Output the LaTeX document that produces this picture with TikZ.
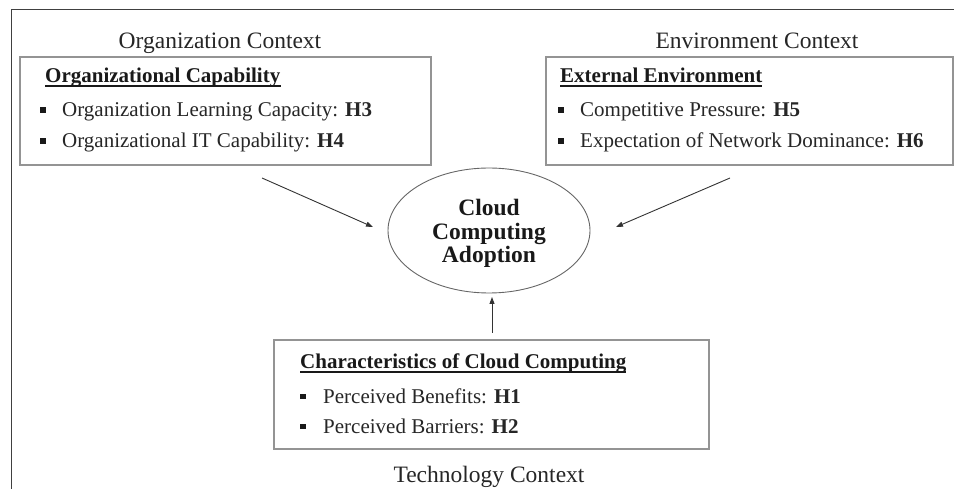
\documentclass[tikz,border=0pt]{standalone}
\usepackage{fontspec}
\setmainfont{Liberation Serif}
\usetikzlibrary{arrows.meta,shapes.geometric}
\tikzset{
  frame/.style={draw=black!75, line width=1pt},
  box/.style={draw=black!42, line width=1.6pt, inner sep=0pt, anchor=north west},
  ctx/.style={inner sep=0pt, anchor=base, font=\fontsize{23.5}{28}\selectfont, text=black!85},
  ttl/.style={inner sep=0pt, anchor=base west, font=\fontsize{21}{25}\selectfont\bfseries, text=black!90},
  item/.style={inner sep=0pt, anchor=base west, font=\fontsize{21}{25}\selectfont, text=black!85},
  bul/.style={fill=black!90, minimum size=5.5pt, inner sep=0pt},
  uline/.style={draw=black!90, line width=1.2pt},
  core/.style={draw=black!60, line width=0.9pt, ellipse, minimum width=202pt, minimum height=125pt, inner sep=0pt},
  coretxt/.style={inner sep=0pt, anchor=base, font=\fontsize{23.5}{25}\selectfont\bfseries, text=black!90},
  arr/.style={draw=black!80, line width=0.9pt, -{Triangle[length=7pt,width=5pt]}},
}
\begin{document}
\begin{tikzpicture}[x=1pt,y=-1pt]
\useasboundingbox (0,0) rectangle (954,489);
% outer frame
\coordinate (fl) at (11,489);
\coordinate (ftl) at (11,9.5);
\coordinate (fr) at (954,9.5);
\draw[frame] (fl) -- (ftl) -- (fr);

% organization context
\node[ctx] (orgctx) at (220,49) {Organization Context};
\node[box, minimum width=411pt, minimum height=108pt] (orgbox) at (19,56) {};
\node[ttl] (orgttl) at (45,83) {Organizational Capability};
\draw[uline] ([yshift=-3pt]orgttl.base west) -- ([yshift=-3pt]orgttl.base east);
\node[bul] (ob1) at (43,110) {};
\node[item] (oi1) at (62,117) {Organization Learning Capacity: \textbf{H3}};
\node[bul] (ob2) at (43,141) {};
\node[item] (oi2) at (62,148) {Organizational IT Capability: \textbf{H4}};

% environment context
\node[ctx] (envctx) at (757,49) {Environment Context};
\node[box, minimum width=407pt, minimum height=108pt] (envbox) at (545,56) {};
\node[ttl] (envttl) at (560,83) {External Environment};
\draw[uline] ([yshift=-3pt]envttl.base west) -- ([yshift=-3pt]envttl.base east);
\node[bul] (eb1) at (561,110) {};
\node[item] (ei1) at (580,117) {Competitive Pressure: \textbf{H5}};
\node[bul] (eb2) at (561,141) {};
\node[item] (ei2) at (580,148) {Expectation of Network Dominance: \textbf{H6}};

% core
\node[core] (cca) at (489,230.5) {};
\node[coretxt] (cc1) at (489,216) {Cloud};
\node[coretxt] (cc2) at (489,239.5) {Computing};
\node[coretxt] (cc3) at (489,263) {Adoption};

% technology context
\node[box, minimum width=435pt, minimum height=109pt] (techbox) at (273,339) {};
\node[ttl] (techttl) at (300,369) {Characteristics of Cloud Computing};
\draw[uline] ([yshift=-3pt]techttl.base west) -- ([yshift=-3pt]techttl.base east);
\node[bul] (tb1) at (303,396.5) {};
\node[item] (ti1) at (323,403) {Perceived Benefits: \textbf{H1}};
\node[bul] (tb2) at (303,426.5) {};
\node[item] (ti2) at (323,433) {Perceived Barriers: \textbf{H2}};
\node[ctx] (techctx) at (489,482) {Technology Context};

% arrows
\coordinate (a1s) at (262,178);
\coordinate (a1e) at (373,227);
\coordinate (a2s) at (730,178);
\coordinate (a2e) at (616,227);
\coordinate (a3s) at (492,333);
\coordinate (a3e) at (492,297);
\draw[arr] (a1s) -- (a1e);
\draw[arr] (a2s) -- (a2e);
\draw[arr] (a3s) -- (a3e);
\end{tikzpicture}
\end{document}
